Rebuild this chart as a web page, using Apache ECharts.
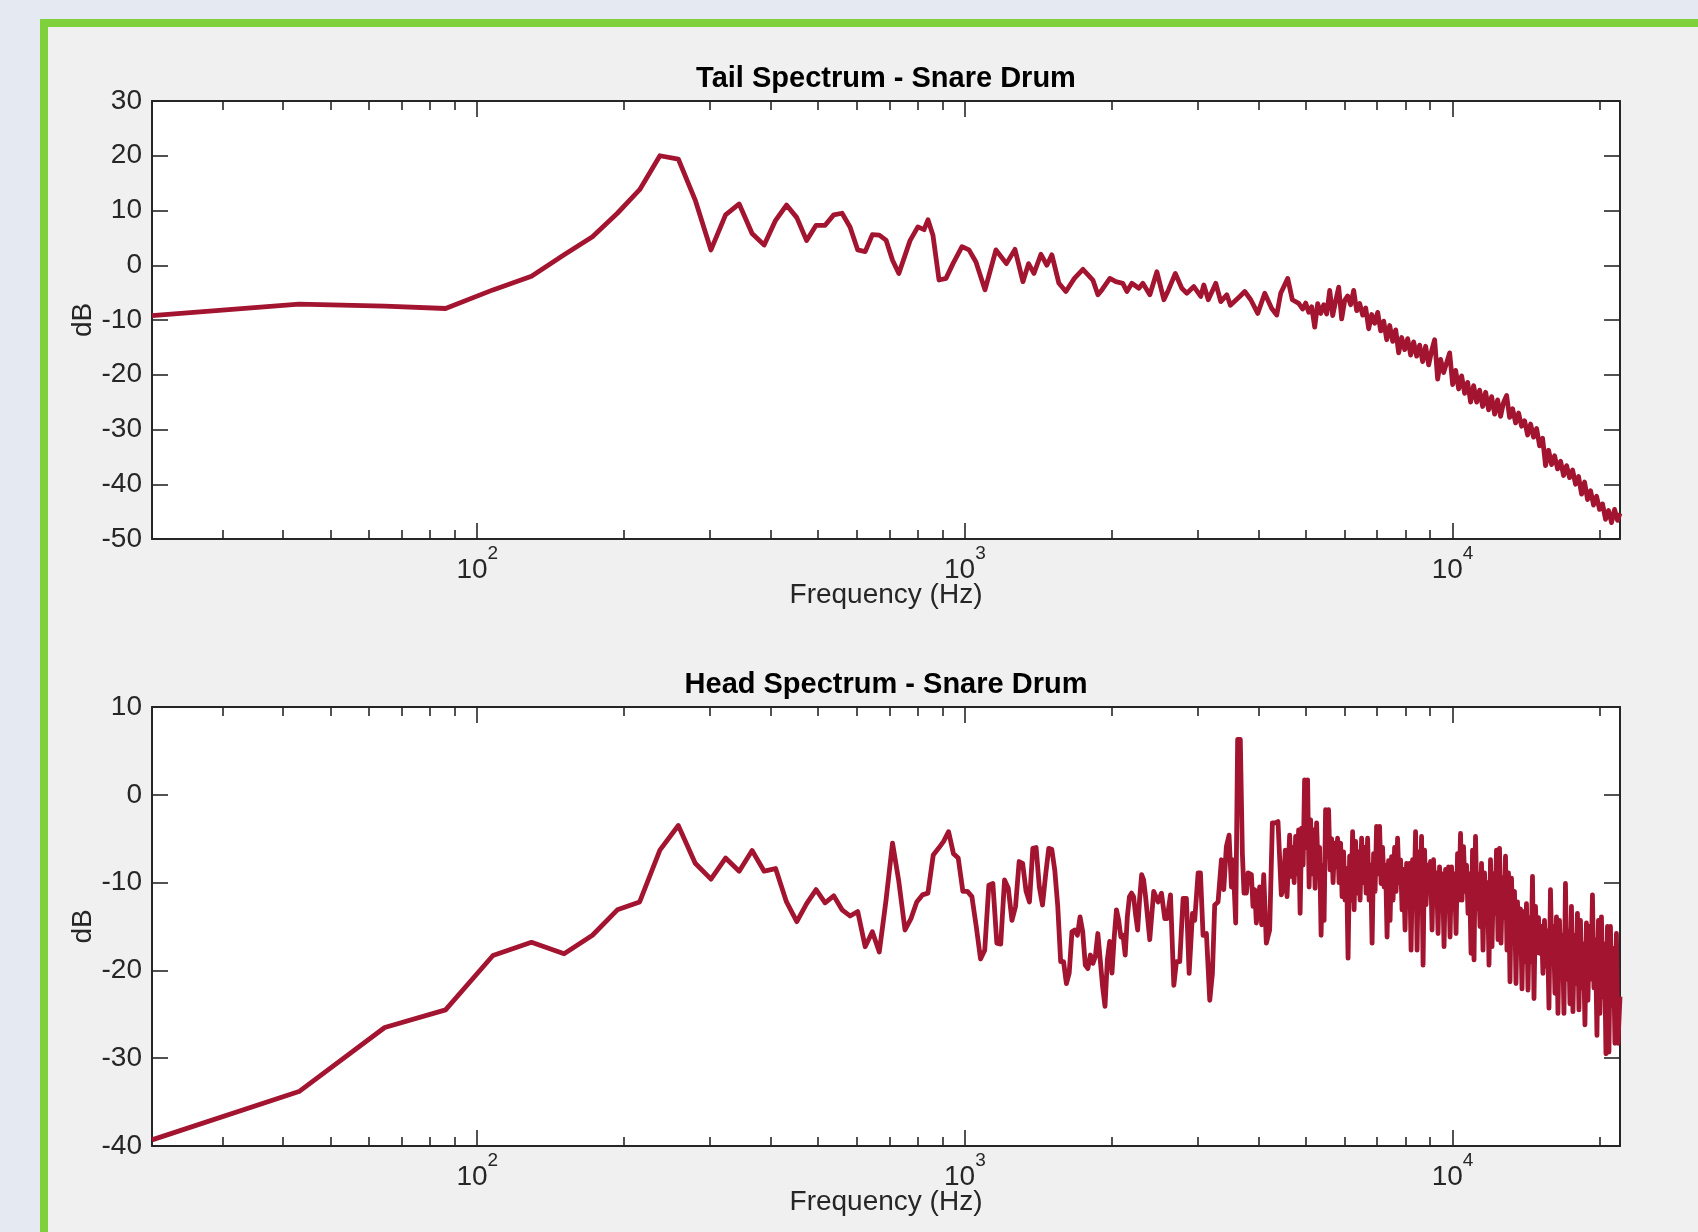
<!DOCTYPE html>
<html>
<head>
<meta charset="utf-8">
<script src="https://cdn.jsdelivr.net/npm/echarts@6/dist/echarts.min.js"></script>
<style>
html,body{margin:0;padding:0;width:1698px;height:1232px;overflow:hidden;background:#e5e9f1;}
#panel{position:absolute;left:40px;top:19px;width:1720px;height:1300px;box-sizing:border-box;border:8px solid #7fd13b;background:#f0f0f0;}
#chart{position:absolute;left:0;top:0;width:1698px;height:1232px;}
</style>
</head>
<body>
<div id="panel"></div>
<div id="chart"></div>
<script>
// ---------------- data ----------------
const X_MIN_HZ = 21.53;
const X_MAX_HZ = 22050;
const majorTickHz = [100, 1000, 10000];
const minorTickHz = [30, 40, 50, 60, 70, 80, 90, 200, 300, 400, 500, 600, 700, 800, 900,
  2000, 3000, 4000, 5000, 6000, 7000, 8000, 9000, 20000];
const tailDbRange = [-50, 30];
const headDbRange = [-40, 10];

const tailFreqHz = [
  21.53, 43.1, 64.6, 86.1, 107.7, 129.2, 150.7, 172.3, 193.8, 215.3,
  236.9, 258.4, 279.9, 301.5, 323.0, 344.5, 366.1, 387.6, 409.1, 430.7,
  452.2, 473.7, 495.3, 516.8, 538.3, 559.9, 581.4, 602.9, 624.5, 646.0,
  667.5, 689.1, 710.6, 732.1,
  771.8, 801, 824.5, 840, 860, 885, 914.7, 945.4, 986.4, 1019.6,
  1053.7, 1099.5, 1158, 1216.8, 1266.7, 1315.3, 1350.6, 1385.5, 1432, 1473,
  1508, 1559, 1611, 1677, 1746, 1830, 1874, 1909.6, 1983, 2040,
  2108, 2149, 2200, 2274, 2317, 2395, 2476, 2559, 2615, 2701,
  2785, 2852, 2948, 3046, 3090, 3156, 3270, 3348, 3444, 3503,
  3662, 3749, 3857, 3986, 4120, 4258, 4360, 4443, 4593, 4693,
  4837,
  4929, 4999, 5071, 5143, 5216, 5291, 5366, 5443, 5520, 5599,
  5679, 5760, 5842, 5925, 6010, 6095, 6182, 6270, 6360, 6451,
  6543, 6636, 6731, 6827, 6924, 7023, 7123, 7225, 7328, 7432,
  7538, 7646, 7755, 7865, 7977, 8091, 8206, 8323, 8442, 8562,
  8684, 8808, 8934, 9061, 9190, 9321, 9454, 9589, 9726, 9864,
  10005, 10148, 10292, 10439, 10588, 10739, 10892, 11047, 11205, 11365,
  11527, 11691, 11858, 12027, 12198, 12372, 12549, 12728, 12909, 13093,
  13280, 13469, 13661, 13856, 14054, 14254, 14457, 14663, 14872, 15084,
  15299, 15517, 15739, 15963, 16191, 16422, 16656, 16893, 17134, 17378,
  17626, 17877, 18132, 18391, 18653, 18919, 19189, 19462, 19740, 20021,
  20306, 20596, 20889, 21187, 21489, 21796, 22050
];
const tailDb = [
  -9.2, -7.1, -7.45, -7.9, -4.5, -2.0, 1.9, 5.2, 9.5, 13.8,
  20.0, 19.4, 11.9, 2.8, 9.2, 11.2, 5.8, 3.7, 8.2, 11.0,
  8.7, 4.5, 7.3, 7.3, 9.2, 9.5, 7.0, 2.8, 2.5, 5.6,
  5.5, 4.6, 0.9, -1.5,
  4.5, 7.0, 6.5, 8.3, 5.5, -2.7, -2.4, 0.3, 3.4, 2.8,
  0.6, -4.5, 2.8, 0.3, 2.9, -3.0, 0.3, -1.5, 2.0, 0.0,
  1.9, -3.3, -4.8, -2.4, -0.75, -2.7, -5.4, -4.5, -2.4, -3.0,
  -3.3, -4.8, -3.3, -4.2, -3.3, -5.4, -1.2, -6.3, -4.5, -1.5,
  -4.2, -5.1, -3.9, -5.7, -3.6, -6.3, -3.3, -6.65, -5.4, -7.3,
  -5.7, -4.8, -6.3, -8.8, -5.1, -7.9, -9.1, -5.1, -2.4, -6.3,
  -6.95,
  -8.0, -6.9, -8.6, -7.6, -11.3, -7.0, -8.8, -7.2, -8.9, -4.6,
  -9.2, -6.5, -4.0, -9.8, -6.4, -5.6, -7.2, -4.6, -8.3, -7.0,
  -9.1, -7.8, -11.6, -9.0, -10.6, -8.6, -12.0, -10.2, -13.6, -11.0,
  -13.9, -11.8, -16.0, -13.2, -15.4, -13.4, -16.4, -14.0, -16.6, -14.6,
  -17.6, -14.8, -18.2, -15.6, -13.6, -20.8, -17.2, -19.6, -17.8, -16.0,
  -21.8, -19.2, -22.6, -20.2, -23.4, -21.4, -25.0, -22.0, -25.0, -22.8,
  -25.8, -23.2, -26.4, -24.0, -27.2, -24.6, -27.6, -25.0, -23.8, -27.8,
  -26.2, -28.8, -27.0, -29.4, -28.4, -31.0, -29.0, -31.4, -29.8, -33.0,
  -31.6, -36.6, -33.8, -36.4, -34.8, -37.2, -35.8, -38.4, -36.6, -38.8,
  -37.4, -40.0, -38.6, -41.8, -39.6, -42.8, -41.2, -43.8, -42.2, -44.6,
  -43.6, -46.4, -44.8, -47.0, -44.6, -46.6, -45.3
];

const headFreqHz = [
  21.53, 43.1, 64.6, 86.1, 107.7, 129.2, 150.7, 172.3, 193.8, 215.3,
  236.9, 258.4, 279.9,
  301.5, 323.0, 344.5, 366.1, 387.6, 409.1, 430.7, 452.2, 473.7, 495.3,
  516.8, 538.3, 559.9, 581.4, 602.9, 624.5, 646.0, 667.5, 689.1, 710.6,
  732.1, 753.7, 775.2, 796.7, 818.3, 839.8, 861.3, 882.9, 904.4, 925.9,
  947.5, 969.0, 990.5, 1012.1, 1033.6, 1055.1, 1076.7, 1098.2, 1119.7, 1141.3,
  1162.8, 1184.3, 1205.9, 1227.4, 1248.9, 1270.4, 1292.0, 1313.5, 1335.0, 1356.6,
  1378.1, 1399.6, 1421.2, 1442.7, 1464.2, 1485.8, 1507.3, 1528.8, 1550.4, 1571.9,
  1593.4, 1615.0, 1636.5, 1658.0, 1679.6, 1701.1, 1722.6, 1744.2, 1765.7, 1787.2,
  1808.8, 1830.3, 1851.8, 1873.4, 1894.9, 1916.4, 1938.0, 1959.5, 1981.0, 2002.6,
  2024.1, 2045.6, 2067.2, 2088.7, 2110.2, 2131.8, 2153.3, 2174.8, 2196.4, 2217.9,
  2239.4, 2261.0, 2282.5, 2304.0, 2325.6, 2347.1,
  2394, 2439, 2490, 2530, 2570, 2598, 2640, 2682, 2715, 2758,
  2802, 2846, 2883, 2929, 2960, 3008, 3041, 3079, 3128, 3178,
  3218, 3253, 3305, 3358, 3395, 3437, 3481, 3520, 3547, 3592,
  3625, 3671, 3707, 3736, 3778, 3808, 3868, 3898, 3929, 3960,
  4022, 4061, 4100, 4151, 4217, 4271, 4338, 4386, 4456, 4491,
  4541, 4577,
  4634, 4667, 4700, 4734, 4767, 4801, 4835, 4869, 4904, 4939,
  4973, 5008, 5044, 5080, 5116, 5152, 5189, 5226, 5263, 5300,
  5338, 5376, 5414, 5453, 5491, 5530, 5570, 5609, 5649, 5689,
  5729, 5770, 5811, 5852, 5894, 5936, 5978, 6020, 6063, 6106,
  6151, 6194, 6239, 6283, 6327, 6372, 6418, 6463, 6509, 6555,
  6602, 6649, 6696, 6744, 6792, 6840, 6888, 6937, 6986, 7036,
  7086, 7136, 7187, 7238, 7290, 7341, 7393, 7446, 7499, 7552,
  7606, 7660, 7714, 7769, 7824, 7880, 7936, 7992, 8049, 8106,
  8164, 8222, 8280, 8339, 8398, 8458, 8518, 8578, 8639, 8701,
  8762, 8825, 8887, 8950, 9014, 9078, 9142, 9207, 9273, 9339,
  9405, 9472, 9539, 9607, 9675, 9744, 9813, 9883, 9953, 10024,
  10095, 10167, 10239, 10311, 10385, 10458, 10533, 10608, 10683, 10759,
  10835, 10912, 10990, 11068, 11146, 11225, 11305, 11386, 11466, 11548,
  11630, 11713, 11796, 11879, 11964, 12049, 12134, 12220, 12307, 12395,
  12483, 12572, 12661, 12751, 12841, 12932, 13024, 13117, 13210, 13304,
  13398, 13493, 13589, 13686, 13783, 13881, 13979, 14079, 14179, 14280,
  14381, 14483, 14586, 14690, 14794, 14899, 15005, 15111, 15218, 15327,
  15436, 15545, 15656, 15767, 15879, 15992, 16105, 16219, 16335, 16451,
  16568, 16685, 16804, 16923, 17044, 17164, 17286, 17409, 17533, 17657,
  17783, 17909, 18036, 18165, 18293, 18423, 18554, 18686, 18819, 18952,
  19088, 19224, 19360, 19498, 19636, 19776, 19916, 20058, 20201, 20344,
  20488, 20634, 20781, 20928, 21077, 21226, 21377, 21529, 21682, 21836,
  22050
];
const headDb = [
  -39.3, -33.8, -26.5, -24.5, -18.3, -16.8, -18.1, -16.0, -13.1, -12.2,
  -6.3, -3.5, -7.8,
  -9.6, -7.2, -8.7, -6.35, -8.7, -8.4, -12.2, -14.45, -12.4, -10.8,
  -12.3, -11.5, -13.1, -13.8, -13.3, -17.3, -15.6, -17.9, -12.0, -5.5,
  -9.9, -15.4, -14.1, -12.2, -11.4, -11.2, -6.85, -6.1, -5.3, -4.2,
  -6.7, -7.2, -11.0, -11.0, -11.6, -15.0, -18.7, -17.7, -10.3, -10.1,
  -16.9, -17.0, -9.7, -10.65, -14.3, -12.7, -7.6, -7.8, -11.0, -12.2,
  -6.1, -6.0, -10.5, -12.55, -9.1, -6.1, -6.2, -8.6, -12.7, -19.0,
  -19.0, -21.5, -20.3, -15.6, -15.4, -16.0, -13.9, -15.6, -19.4, -19.8,
  -18.25, -19.2, -18.4, -15.8, -18.8, -21.9, -24.1, -18.8, -16.7, -20.3,
  -16.2, -13.1, -14.3, -16.2, -16.0, -18.25, -13.9, -11.6, -11.2, -11.6,
  -13.7, -15.4, -11.8, -9.1, -9.7, -11.6,
  -16.5, -11.0, -12.2, -11.2, -14.1, -14.1, -11.4, -21.7, -19.0, -19.0,
  -11.8, -11.8, -20.35, -13.5, -14.3, -8.9, -8.9, -16.0, -15.8, -23.4,
  -20.35, -12.55, -12.2, -7.4, -10.8, -5.9, -4.6, -10.5, -7.4, -14.6,
  6.3, 6.3, -6.7, -11.2, -11.2, -8.9, -9.1, -12.7, -10.8, -14.6,
  -10.5, -14.8, -9.1, -16.9, -15.4, -3.2, -3.2, -3.05, -11.4, -10.8,
  -6.3, -11.6,
  -4.6, -9.3, -6.0, -10.0, -4.75, -9.0, -4.0, -13.5, -3.8, -8.0,
  1.7, -6.0, 1.7, -10.5, -2.85, -9.0, -4.0, -10.65, -3.2, -8.55,
  -6.0, -16.0, -8.0, -14.3, -1.7, -7.0, -1.7, -8.55, -5.0, -10.0,
  -5.5, -8.2, -4.95, -10.0, -5.5, -11.6, -6.5, -12.0, -8.4, -18.6,
  -7.0, -12.0, -4.2, -13.1, -5.3, -11.2, -6.5, -12.0, -4.95, -10.0,
  -6.0, -11.2, -4.95, -12.0, -8.0, -16.9, -6.7, -11.0, -3.6, -9.0,
  -3.6, -10.1, -6.0, -10.5, -8.0, -16.2, -7.5, -14.3, -7.05, -12.0,
  -6.0, -11.0, -4.95, -10.0, -7.4, -13.1, -8.5, -15.4, -7.8, -11.5,
  -7.8, -17.7, -7.4, -12.0, -4.2, -17.7, -6.5, -12.5, -4.75, -19.4,
  -6.3, -12.5, -8.0, -10.1, -7.6, -15.4, -7.4, -12.0, -8.9, -15.8,
  -8.2, -13.0, -9.0, -17.3, -8.5, -12.2, -8.2, -16.2, -8.2, -13.0,
  -9.0, -15.8, -6.7, -12.0, -4.4, -12.0, -5.9, -11.0, -8.0, -13.5,
  -9.0, -18.05, -6.3, -18.8, -4.75, -13.0, -9.0, -15.0, -7.8, -17.7,
  -8.9, -14.3, -10.0, -19.4, -7.4, -17.3, -9.0, -13.5, -6.3, -16.5,
  -6.1, -16.9, -9.5, -14.0, -7.0, -17.7, -8.9, -21.3, -9.5, -16.0,
  -11.0, -21.5, -12.2, -17.0, -13.0, -22.1, -13.3, -19.0, -12.4, -22.25,
  -14.0, -19.0, -9.3, -23.2, -12.7, -18.0, -14.0, -18.05, -15.0, -20.35,
  -14.3, -19.5, -15.5, -24.3, -10.8, -19.0, -15.0, -22.6, -13.9, -24.9,
  -14.3, -20.0, -16.0, -24.9, -10.1, -21.0, -15.5, -23.8, -12.7, -24.7,
  -16.0, -21.5, -13.5, -24.5, -14.3, -22.0, -17.0, -26.2, -14.6, -23.4,
  -15.0, -21.0, -11.4, -22.0, -16.5, -27.4, -14.3, -24.9, -13.9, -23.0,
  -17.0, -29.5, -15.0, -29.3, -15.0, -24.0, -17.5, -28.3, -15.8, -28.3,
  -23.0
];

// ---------------- chart ----------------
const FONT = '"Liberation Sans", Arial, Helvetica, sans-serif';
const INK = '#262626';
const LINE_COLOR = '#a2142f';
const lg = v => Math.log10(v);
const xLo = lg(X_MIN_HZ), xHi = lg(X_MAX_HZ);
const majorLog = majorTickHz.map(lg);
const minorLog = minorTickHz.map(lg);

const pairs = (xs, ys) => {
  const n = Math.min(xs.length, ys.length);
  const out = [];
  for (let i = 0; i < n; i++) out.push([xs[i], ys[i]]);
  return out;
};

const grids = [
  { left: 152, top: 101, width: 1468, height: 438, show: true, backgroundColor: '#ffffff', borderWidth: 0 },
  { left: 152, top: 707, width: 1468, height: 439, show: true, backgroundColor: '#ffffff', borderWidth: 0 }
];

const axisLineStyle = { color: INK, width: 2 };
const tickStyle = { color: INK, width: 1.6 };

function xAxesFor(g) {
  const base = {
    type: 'value', gridIndex: g, min: xLo, max: xHi,
    splitLine: { show: false }, axisLabel: { show: false }
  };
  return [
    { type: 'log', logBase: 10, gridIndex: g, min: X_MIN_HZ, max: X_MAX_HZ, show: false },
    Object.assign({}, base, {
      position: 'bottom',
      axisLine: { show: true, onZero: false, lineStyle: axisLineStyle },
      axisTick: { show: true, inside: true, length: 16, customValues: majorLog, lineStyle: tickStyle },
      axisLabel: {
        show: true, customValues: majorLog, margin: 5,
        formatter: v => '{b|10}{s|' + Math.round(v) + '}',
        rich: {
          b: { fontSize: 28, fontFamily: FONT, color: INK, lineHeight: 40, verticalAlign: 'bottom' },
          s: { fontSize: 19, fontFamily: FONT, color: INK, lineHeight: 19, verticalAlign: 'top' }
        }
      },
      name: 'Frequency (Hz)', nameLocation: 'middle', nameGap: 42, nameMoveOverlap: false,
      nameTextStyle: { fontSize: 28, fontFamily: FONT, color: INK }
    }),
    Object.assign({}, base, {
      position: 'bottom',
      axisLine: { show: false, onZero: false },
      axisTick: { show: true, inside: true, length: 9, customValues: minorLog, lineStyle: tickStyle }
    }),
    Object.assign({}, base, {
      position: 'top',
      axisLine: { show: true, onZero: false, lineStyle: axisLineStyle },
      axisTick: { show: true, inside: true, length: 16, customValues: majorLog, lineStyle: tickStyle }
    }),
    Object.assign({}, base, {
      position: 'top',
      axisLine: { show: false, onZero: false },
      axisTick: { show: true, inside: true, length: 9, customValues: minorLog, lineStyle: tickStyle }
    })
  ];
}

function yAxesFor(g, range) {
  const base = {
    type: 'value', gridIndex: g, min: range[0], max: range[1], interval: 10,
    splitLine: { show: false },
    axisLine: { show: true, onZero: false, lineStyle: axisLineStyle },
    axisTick: { show: true, inside: true, length: 16, lineStyle: tickStyle }
  };
  return [
    Object.assign({}, base, {
      position: 'left',
      axisLabel: { show: true, margin: 10, fontSize: 28, fontFamily: FONT, color: INK },
      name: 'dB', nameLocation: 'middle', nameGap: 55, nameRotate: 90, nameMoveOverlap: false,
      nameTextStyle: { fontSize: 28, fontFamily: FONT, color: INK }
    }),
    Object.assign({}, base, { position: 'right', axisLabel: { show: false } })
  ];
}

const chart = echarts.init(document.getElementById('chart'), null, { renderer: 'canvas' });
chart.setOption({
  backgroundColor: 'transparent',
  animation: false,
  grid: grids,
  xAxis: xAxesFor(0).concat(xAxesFor(1)),
  yAxis: yAxesFor(0, tailDbRange).concat(yAxesFor(1, headDbRange)),
  graphic: [
    { type: 'text', x: 886, y: 79, z: 10,
      style: { text: 'Tail Spectrum - Snare Drum', font: 'bold 29px ' + FONT, fill: '#000', align: 'center', verticalAlign: 'middle' } },
    { type: 'text', x: 886, y: 685, z: 10,
      style: { text: 'Head Spectrum - Snare Drum', font: 'bold 29px ' + FONT, fill: '#000', align: 'center', verticalAlign: 'middle' } }
  ],
  series: [
    { type: 'line', xAxisIndex: 0, yAxisIndex: 0, data: pairs(tailFreqHz, tailDb),
      showSymbol: false, symbol: 'none', lineStyle: { color: LINE_COLOR, width: 4.8, join: 'round' } },
    { type: 'line', xAxisIndex: 5, yAxisIndex: 2, data: pairs(headFreqHz, headDb),
      showSymbol: false, symbol: 'none', lineStyle: { color: LINE_COLOR, width: 4.8, join: 'round' } }
  ]
});
</script>
</body>
</html>
